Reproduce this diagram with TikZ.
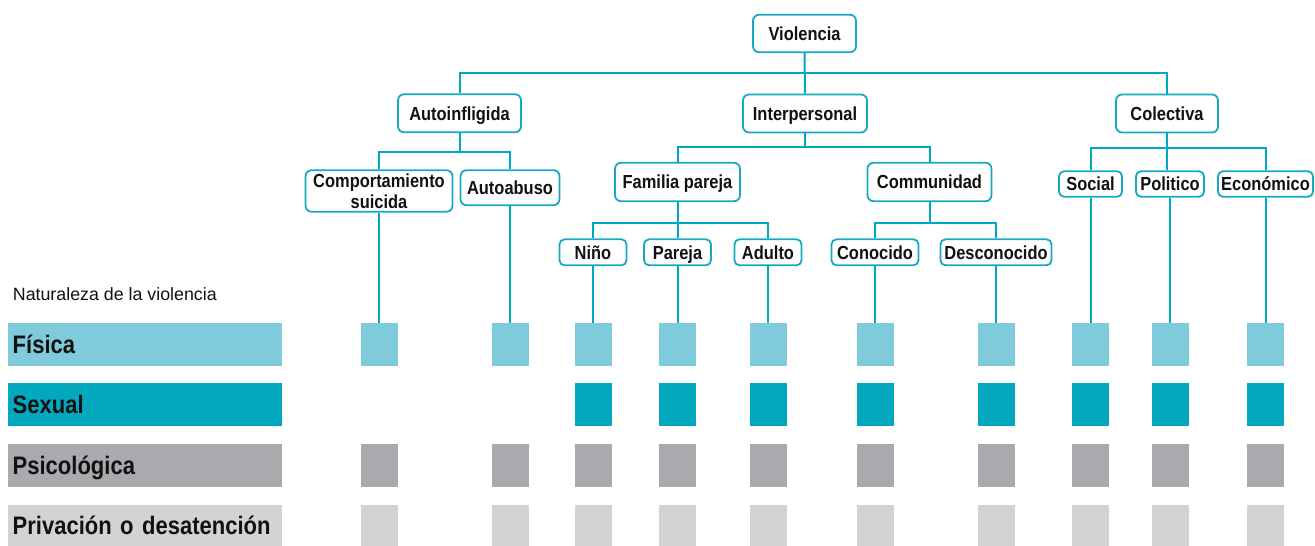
\documentclass[tikz,border=0pt]{standalone}
\usepackage{fontspec}
\setmainfont{Liberation Sans}
\newfontfamily\bfont{Liberation Sans}[FakeStretch=0.87]
\definecolor{lineteal}{HTML}{00A9BF}
\definecolor{boxteal}{HTML}{16AAC0}
\definecolor{cF}{HTML}{7FCBDB}
\definecolor{cS}{HTML}{02A8BE}
\definecolor{cP}{HTML}{A9A9AE}
\definecolor{cD}{HTML}{D2D3D5}
\definecolor{txt}{HTML}{111111}
\begin{document}
\begin{tikzpicture}[x=1pt,y=-1pt,
  tbox/.style={draw=boxteal, line width=1.8pt, rounded corners=6pt, fill=white,
    inner sep=0pt, font=\bfont\bfseries\fontsize{18.9}{20.7}\selectfont,
    align=center, text=txt, text height=13.5pt, text depth=0pt},
  conn/.style={draw=lineteal, line width=2pt},
  sq/.style={minimum width=37pt, minimum height=43pt, inner sep=0pt, outer sep=0pt, draw=none},
  lbar/.style={minimum height=43pt, text width=264.6pt, inner xsep=4.7pt, inner ysep=0pt,
    align=left, text height=17.8pt, text depth=0pt, outer sep=0pt,
    font=\bfont\bfseries\fontsize{25.3}{28}\selectfont, text=txt}
]
\useasboundingbox (0,0) rectangle (1315,546);

% level 0
\node[tbox, minimum width=103pt, minimum height=37.5pt] (viol) at (804.5,33.5) {Violencia};
% level 1
\node[tbox, minimum width=123pt, minimum height=38pt] (auto) at (459.5,113.3) {Autoinfligida};
\node[tbox, minimum width=124pt, minimum height=38pt] (inter) at (805,113.5) {Interpersonal};
\node[tbox, minimum width=102pt, minimum height=38pt] (colec) at (1167,113.5) {Colectiva};
% level 2
\node[tbox, minimum width=147pt, minimum height=41.5pt, text height=34.2pt] (comp) at (379,191) {Comportamiento\\suicida};
\node[tbox, minimum width=99pt, minimum height=35pt] (autoab) at (510,187.7) {Autoabuso};
\node[tbox, minimum width=125pt, minimum height=38.5pt] (fam) at (677.5,182) {Familia pareja};
\node[tbox, minimum width=124pt, minimum height=38.5pt] (comm) at (929.5,182) {Communidad};
\node[tbox, rounded corners=5pt, minimum width=63pt, minimum height=25.5pt] (social) at (1090.5,184) {Social};
\node[tbox, rounded corners=5pt, minimum width=68pt, minimum height=25.5pt] (polit) at (1170,184) {Politico};
\node[tbox, rounded corners=5pt, minimum width=95pt, minimum height=25.5pt] (econ) at (1265.5,184) {Económico};
% level 3
\node[tbox, rounded corners=5pt, minimum width=67pt, minimum height=26pt] (nino) at (593,252.3) {Niño};
\node[tbox, rounded corners=5pt, minimum width=67pt, minimum height=26pt] (pareja) at (677.5,252.3) {Pareja};
\node[tbox, rounded corners=5pt, minimum width=67pt, minimum height=26pt] (adulto) at (768,252.3) {Adulto};
\node[tbox, rounded corners=5pt, minimum width=87pt, minimum height=26pt] (conoc) at (875,252.3) {Conocido};
\node[tbox, rounded corners=5pt, minimum width=111pt, minimum height=26pt] (descon) at (996,252.3) {Desconocido};

% bus coordinates
\coordinate (b0) at (804.5,72.7);
\coordinate (b1) at (459.5,152);
\coordinate (b2) at (805,147.3);
\coordinate (b3) at (1167,148);
\coordinate (b4) at (677.5,222.7);
\coordinate (b5) at (929.5,222.7);

% connectors
\draw[conn] (viol.south) -- (inter.north);
\draw[conn] (auto.north) |- (b0) -| (colec.north);
\draw[conn] (auto.south) -- (b1);
\draw[conn] (comp.north) |- (b1) -| (autoab.north);
\draw[conn] (inter.south) -- (b2);
\draw[conn] (fam.north) |- (b2) -| (comm.north);
\draw[conn] (colec.south) -- (b3);
\draw[conn] (social.north) |- (b3) -| (econ.north);
\draw[conn] (b3) -- (polit.north -| b3);
\draw[conn] (fam.south) -- (pareja.north);
\draw[conn] (nino.north) |- (b4) -| (adulto.north);
\draw[conn] (comm.south) -- (b5);
\draw[conn] (conoc.north) |- (b5) -| (descon.north);

% legend
\node[anchor=base west, inner sep=0pt, text=txt, font=\fontsize{17.8}{20}\selectfont] (nat) at (12.7,300.7) {Naturaleza de la violencia};
\node[lbar, fill=cF] (lf) at (145,344.5) {Física};
\node[lbar, fill=cS] (ls) at (145,404.5) {Sexual};
\node[lbar, fill=cP] (lp) at (145,465.5) {Psicológica};
\node[lbar, fill=cD, minimum height=41pt] (ld) at (145,525.5) {Privación o desatención};

% squares
\foreach \x/\n [count=\i] in {379/comp,510/autoab,593/nino,677.5/pareja,768/adulto,875/conoc,996/descon,1090.5/social,1170/polit,1265.5/econ} {
  \node[sq, fill=cF] (f\i) at (\x,344.5) {};
  \ifnum\i>2 \node[sq, fill=cS] (s\i) at (\x,404.5) {}; \fi
  \node[sq, fill=cP] (p\i) at (\x,465.5) {};
  \node[sq, fill=cD, minimum height=41pt] (d\i) at (\x,525.5) {};
  \draw[conn] (\n.south) -- (f\i.north);
}
\end{tikzpicture}
\end{document}
